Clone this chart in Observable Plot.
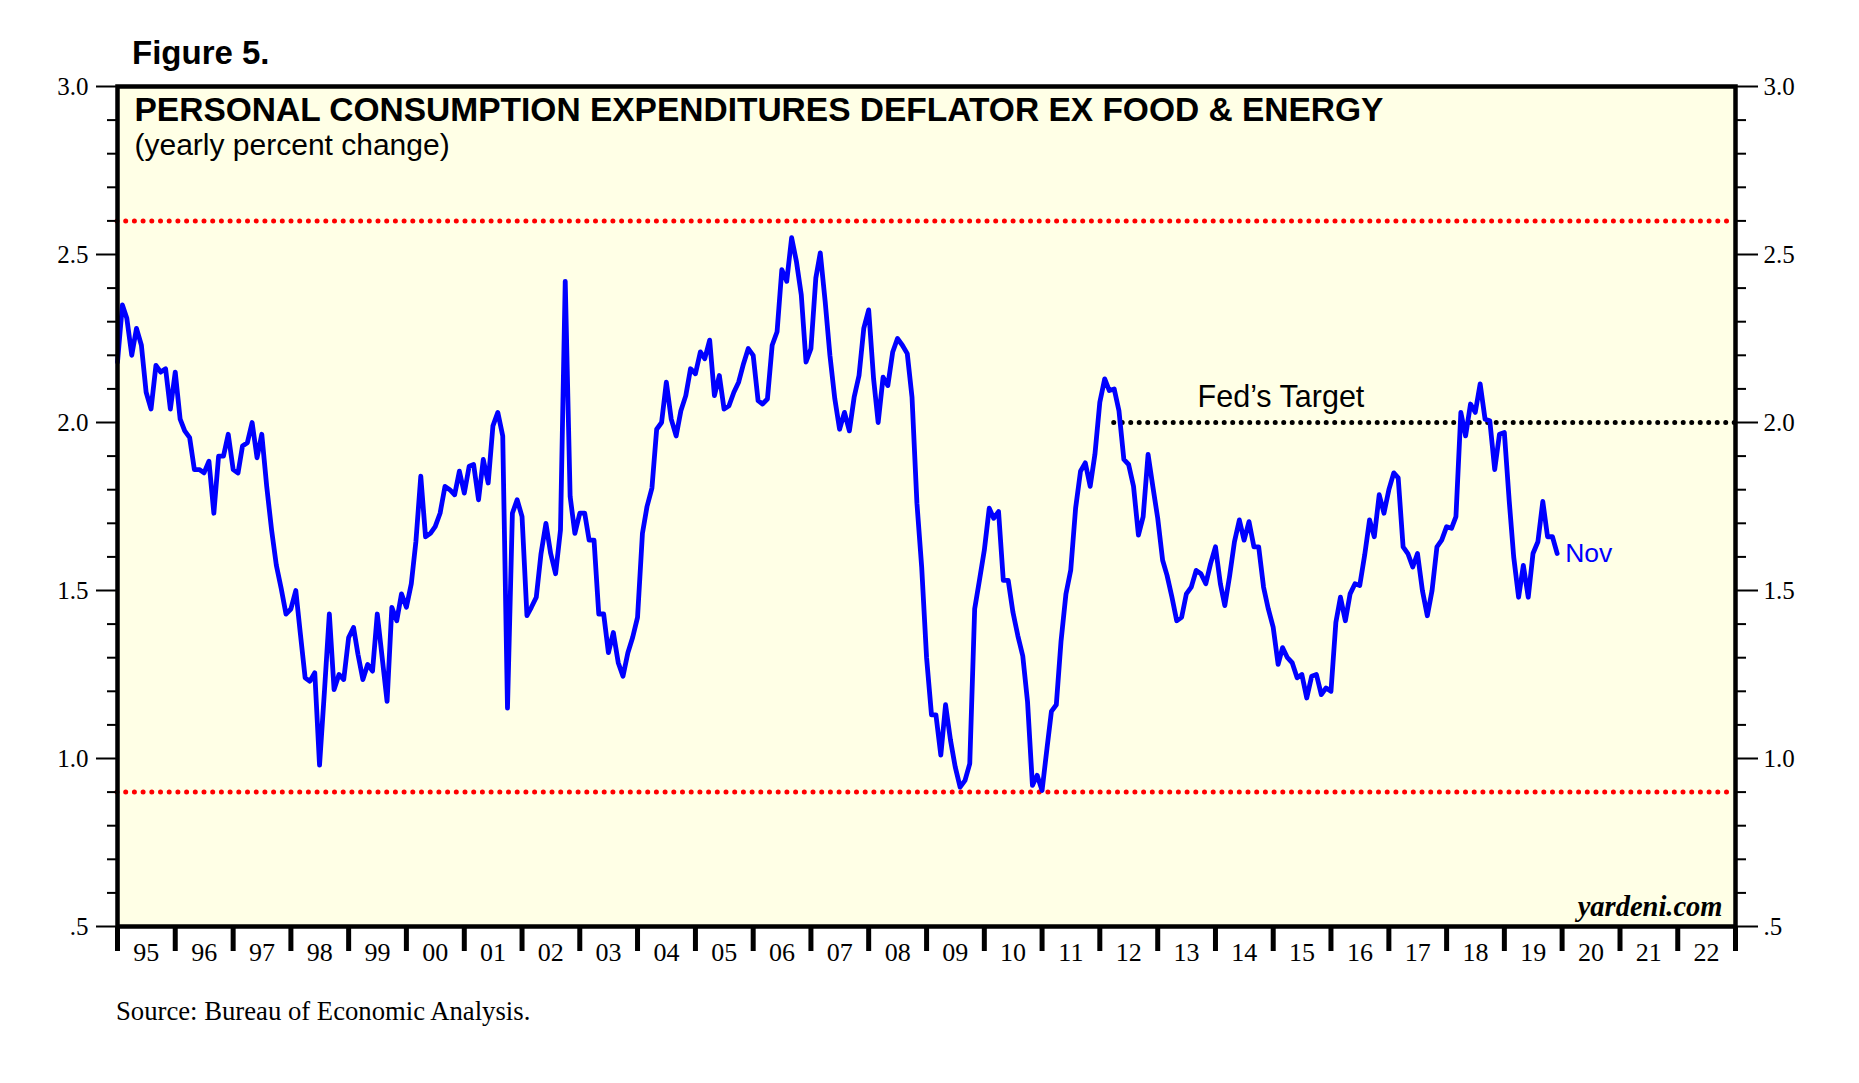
<!DOCTYPE html>
<html>
<head>
<meta charset="utf-8">
<script src="https://cdn.jsdelivr.net/npm/d3@7"></script>
<script src="https://cdn.jsdelivr.net/npm/@observablehq/plot@0.6"></script>
<style>
  html, body { margin: 0; padding: 0; background: #ffffff; }
  #wrap { position: relative; width: 1859px; height: 1083px; overflow: hidden; }
  #wrap svg { position: absolute; left: 0; top: 0; }
  #fig { position: absolute; left: 132px; top: 36px; font: bold 33px/33px "Liberation Sans", Arial, sans-serif; color: #000; }
  #src { position: absolute; left: 116px; top: 998px; font: 26.7px/26.7px "Liberation Serif", "Times New Roman", serif; color: #000; }
</style>
</head>
<body>
<div id="wrap">
  <div id="fig">Figure 5.</div>
  <div id="src">Source: Bureau of Economic Analysis.</div>
</div>
<script>
// Core PCE deflator, yearly % change. Monthly readings, first point = Dec 1994
// (each point drawn at its month end), last point = Nov 2019.
const firstMonthEnd = [1995, 0];
const values1995to1999 = [
  2.18, 2.35, 2.31, 2.20, 2.28, 2.23, 2.09, 2.04, 2.17, 2.15, 2.16, 2.04,
  2.15, 2.01, 1.975, 1.955, 1.86, 1.86, 1.85, 1.885, 1.73, 1.90, 1.90, 1.965,
  1.86, 1.85, 1.93, 1.94, 2.00, 1.895, 1.965, 1.81, 1.68, 1.575, 1.505, 1.43,
  1.445, 1.50, 1.375, 1.24, 1.23, 1.255, 0.98, 1.20, 1.43, 1.205, 1.25, 1.235,
  1.36, 1.39, 1.31, 1.235, 1.28, 1.26, 1.43, 1.30, 1.17, 1.45, 1.41, 1.49
];
const values2000to2004 = [
  1.45, 1.52, 1.645, 1.84, 1.66, 1.67, 1.69, 1.73, 1.81, 1.80, 1.785, 1.855,
  1.79, 1.87, 1.875, 1.77, 1.89, 1.82, 1.99, 2.03, 1.96, 1.15, 1.73, 1.77,
  1.72, 1.425, 1.45, 1.48, 1.61, 1.70, 1.61, 1.55, 1.68, 2.42, 1.78, 1.67,
  1.73, 1.73, 1.65, 1.65, 1.43, 1.43, 1.315, 1.375, 1.285, 1.245, 1.315, 1.36,
  1.42, 1.67, 1.75, 1.805, 1.98, 2.00, 2.12, 2.01, 1.96, 2.035, 2.08, 2.16
];
const values2005to2009 = [
  2.145, 2.21, 2.19, 2.245, 2.08, 2.14, 2.04, 2.05, 2.09, 2.12, 2.175, 2.22,
  2.20, 2.065, 2.055, 2.07, 2.23, 2.27, 2.455, 2.42, 2.55, 2.48, 2.38, 2.18,
  2.22, 2.43, 2.505, 2.36, 2.20, 2.07, 1.98, 2.03, 1.975, 2.075, 2.14, 2.28,
  2.335, 2.13, 2.00, 2.135, 2.11, 2.21, 2.25, 2.23, 2.205, 2.075, 1.76, 1.57,
  1.30, 1.13, 1.13, 1.01, 1.16, 1.055, 0.975, 0.915, 0.935, 0.985, 1.445, 1.53
];
const values2010to2014 = [
  1.62, 1.745, 1.715, 1.735, 1.53, 1.53, 1.435, 1.365, 1.305, 1.17, 0.92, 0.95,
  0.905, 1.03, 1.14, 1.16, 1.35, 1.49, 1.56, 1.745, 1.855, 1.88, 1.81, 1.905,
  2.06, 2.13, 2.095, 2.10, 2.035, 1.89, 1.875, 1.81, 1.665, 1.72, 1.905, 1.81,
  1.715, 1.59, 1.545, 1.48, 1.41, 1.42, 1.49, 1.51, 1.56, 1.55, 1.52, 1.58,
  1.63, 1.52, 1.455, 1.545, 1.645, 1.71, 1.65, 1.705, 1.63, 1.63, 1.51, 1.445
];
const values2015to2019 = [
  1.39, 1.28, 1.33, 1.30, 1.285, 1.24, 1.25, 1.18, 1.245, 1.25, 1.19, 1.21,
  1.20, 1.405, 1.48, 1.41, 1.49, 1.52, 1.515, 1.605, 1.71, 1.66, 1.785, 1.73,
  1.80, 1.85, 1.835, 1.63, 1.61, 1.57, 1.61, 1.50, 1.425, 1.50, 1.63, 1.65,
  1.69, 1.685, 1.72, 2.03, 1.96, 2.055, 2.03, 2.115, 2.01, 2.005, 1.86, 1.965,
  1.97, 1.765, 1.60, 1.48, 1.575, 1.48, 1.61, 1.645, 1.765, 1.66, 1.66, 1.61
];
const bandLevels = [2.6, 0.9];
const fedTarget = 2.0;
const fedTargetStart = [2012, 3];
const fedLabelStart = [2013, 8, 10];
const lastLabel = "Nov";
const yMajorTicks = [0.5, 1.0, 1.5, 2.0, 2.5, 3.0];
const yMinorTicks = d3.range(5, 31).map(d => d / 10).filter(d => !yMajorTicks.includes(d));
const yearStart = 1995, yearEnd = 2023;

const titleText = "PERSONAL CONSUMPTION EXPENDITURES DEFLATOR EX FOOD & ENERGY";
const subtitleText = "(yearly percent change)";
const creditText = "yardeni.com";

// build table
const allValues = [...values1995to1999, ...values2000to2004, ...values2005to2009, ...values2010to2014, ...values2015to2019];
const series = allValues.map((v, i) => ({date: new Date(Date.UTC(firstMonthEnd[0], firstMonthEnd[1] + i, 1)), value: v}));
const last = series[series.length - 1];
const yearTicks = d3.range(yearStart, yearEnd + 1).map(y => new Date(Date.UTC(y, 0, 1)));
const yearMids = d3.range(yearStart, yearEnd).map(y => new Date(Date.UTC(y, 6, 2)));
const xDomain = [new Date(Date.UTC(yearStart, 0, 1)), new Date(Date.UTC(yearEnd, 0, 1))];
const fedRule = [{x1: new Date(Date.UTC(fedTargetStart[0], fedTargetStart[1], 1)), x2: xDomain[1], y: fedTarget}];
const fedLabel = [{x: new Date(Date.UTC(...fedLabelStart)), y: fedTarget, text: "Fed\u2019s Target"}];
const yFmt = d => d3.format(".1f")(d).replace(/^0/, "");

const BG = "#FFFFE6";
const SANS = "'Liberation Sans', Arial, sans-serif";
const SERIF = "'Liberation Serif', 'Times New Roman', serif";

const chart = Plot.plot({
  width: 1859,
  height: 990,
  marginLeft: 117,
  marginRight: 124,
  marginTop: 86,
  marginBottom: 64,
  style: {fontFamily: SERIF, background: "transparent", overflow: "visible", color: "#000"},
  x: {type: "utc", domain: xDomain},
  y: {domain: [0.5, 3.0]},
  marks: [
    Plot.frame({fill: BG, stroke: "none"}),
    Plot.ruleY(bandLevels, {stroke: "#FF0000", strokeWidth: 5, strokeDasharray: "0 8.7", strokeLinecap: "round"}),
    Plot.ruleY(fedRule, {x1: "x1", x2: "x2", y: "y", stroke: "#000", strokeWidth: 5, strokeDasharray: "0 8.5", strokeLinecap: "round"}),
    Plot.text(fedLabel, {x: "x", y: "y", text: "text", textAnchor: "start", lineAnchor: "bottom", dy: -16, fontFamily: SANS, fontSize: 30.5, fill: "#000"}),
    Plot.line(series, {x: "date", y: "value", stroke: "#0000FF", strokeWidth: 4.8}),
    Plot.text([last], {x: "date", y: "value", text: () => lastLabel, textAnchor: "start", dx: 8, fontFamily: SANS, fontSize: 26.5, fill: "#0000FF"}),
    Plot.text([titleText], {text: d => d, frameAnchor: "top-left", textAnchor: "start", lineAnchor: "bottom", dx: 17, dy: 34, fontFamily: SANS, fontWeight: "bold", fontSize: 33.5, fill: "#000"}),
    Plot.text([subtitleText], {text: d => d, frameAnchor: "top-left", textAnchor: "start", lineAnchor: "bottom", dx: 17, dy: 68, fontFamily: SANS, fontSize: 30, fill: "#000"}),
    Plot.text([creditText], {text: d => d, frameAnchor: "bottom-right", textAnchor: "end", lineAnchor: "bottom", dx: -13, dy: -11, fontFamily: SERIF, fontWeight: "bold", fontStyle: "italic", fontSize: 28.5, fill: "#000"}),
    Plot.axisY({anchor: "left", ticks: yMajorTicks, tickSize: 21, tickPadding: 8, tickFormat: yFmt, fontSize: 25, strokeWidth: 2, label: null}),
    Plot.axisY({anchor: "left", ticks: yMinorTicks, tickSize: 10, tickPadding: 0, tickFormat: () => "", strokeWidth: 2, label: null}),
    Plot.axisY({anchor: "right", ticks: yMajorTicks, tickSize: 22, tickPadding: 6, tickFormat: yFmt, fontSize: 25, strokeWidth: 2, label: null}),
    Plot.axisY({anchor: "right", ticks: yMinorTicks, tickSize: 10, tickPadding: 0, tickFormat: () => "", strokeWidth: 2, label: null}),
    Plot.axisX({anchor: "bottom", ticks: yearTicks, tickSize: 25, tickPadding: 0, tickFormat: () => "", strokeWidth: 5, label: null}),
    Plot.axisX({anchor: "bottom", ticks: yearMids, tickSize: 0, tickPadding: 16, tickFormat: d => String(d.getUTCFullYear()).slice(2), fontSize: 26, label: null}),
    Plot.frame({stroke: "#000", strokeWidth: 4.5, fill: "none"})
  ]
});
document.getElementById("wrap").prepend(chart);
</script>
</body>
</html>
